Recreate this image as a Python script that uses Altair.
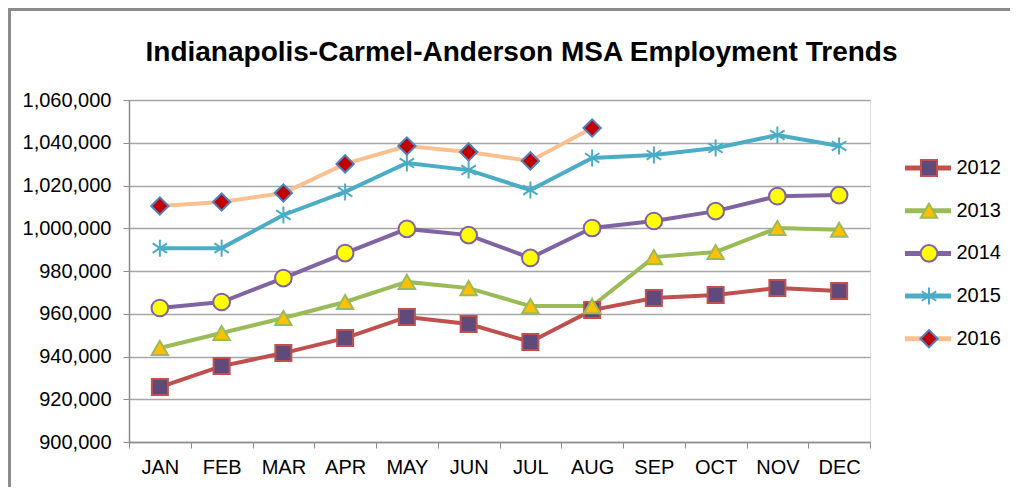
import altair as alt
import pandas as pd

months = ["JAN", "FEB", "MAR", "APR", "MAY", "JUN", "JUL", "AUG", "SEP", "OCT", "NOV", "DEC"]
years = ["2012", "2013", "2014", "2015", "2016"]

v2012 = [925700, 935500, 941600, 948600, 958500, 955200, 946800, 961700, 967400, 968800, 972000, 970600]
v2013 = [944000, 951000, 958000, 965500, 974900, 972000, 963600, 963600, 986500, 988900, 1000100, 999300]
v2014 = [962700, 965500, 976700, 988400, 999700, 996800, 986100, 1000100, 1003400, 1008000, 1015000, 1015500]
v2015 = [990700, 990700, 1006200, 1017000, 1030500, 1027200, 1017900, 1032900, 1034300, 1037500, 1043600, 1038500]
v2016 = [1010400, 1012300, 1016500, 1030100, 1038500, 1035700, 1031500, 1046900]

y_ticks = [900000, 920000, 940000, 960000, 980000, 1000000, 1020000, 1040000, 1060000]

line_colors = ["#C0504D", "#9BBB59", "#8064A2", "#4BACC6", "#FAC090"]
marker_fill = ["#604A7B", "#FFC000", "#FFFF00", "transparent", "#C00000"]
marker_stroke = ["#C0504D", "#9BBB59", "#8064A2", "#4BACC6", "#4F81BD"]
asterisk = "M0,-1L0,1M-0.85,-0.55L0.85,0.55M-0.85,0.55L0.85,-0.55"
marker_shapes = ["square", "triangle-up", "circle", asterisk, "diamond"]
marker_sizes = [256, 300, 289, 324, 225]

rows = []
for yr, vals in zip(years, [v2012, v2013, v2014, v2015, v2016]):
    for m, v in zip(months, vals):
        rows.append({"month": m, "year": yr, "value": v})
df = pd.DataFrame(rows)

series_keys = ["s" + y for y in years]

FONT = "Liberation Sans"

x_enc = alt.X("month:N", sort=months, bandPosition=0.5,
              scale=alt.Scale(type="band", domain=months, paddingInner=0, paddingOuter=0),
              axis=alt.Axis(title=None, labelAngle=0, tickBand="extent", grid=False,
                            labelFont=FONT, labelFontSize=20, labelColor="black", labelPadding=9,
                            tickSize=6, tickColor="#8C8C8C", domainColor="#8C8C8C", domainWidth=1.5))
y_enc = alt.Y("value:Q",
              scale=alt.Scale(domain=[900000, 1060000], nice=False, zero=False),
              axis=alt.Axis(title=None, values=y_ticks, format=",d",
                            labelFont=FONT, labelFontSize=20, labelColor="black", labelPadding=12,
                            tickSize=6, tickColor="#8C8C8C", domainColor="#8C8C8C", domainWidth=1.5,
                            gridColor="#A6A6A6", gridWidth=1.5))

line_legend = alt.Legend(orient="none", legendX=773.5, legendY=56, title=None,
                         symbolType="stroke", symbolSize=2116, symbolStrokeWidth=5,
                         clipHeight=24, rowPadding=18.7, padding=0,
                         labelFont=FONT, labelFontSize=20, labelColor="black", labelOffset=3)

point_legend = alt.Legend(orient="none", legendX=790, legendY=56, title=None,
                          clipHeight=24, rowPadding=18.7, padding=0,
                          symbolStrokeWidth=2, symbolOpacity=1, labelExpr="''",
                          labelFont=FONT, labelFontSize=20)

lines = alt.Chart(df).mark_line(strokeWidth=4).encode(
    x=x_enc,
    y=y_enc,
    color=alt.Color("year:N", scale=alt.Scale(domain=years, range=line_colors), legend=line_legend),
)

points = alt.Chart(df).transform_calculate(series="'s' + datum.year").mark_point(
    filled=True, opacity=1, strokeWidth=2
).encode(
    x=x_enc,
    y=y_enc,
    fill=alt.Fill("series:N", scale=alt.Scale(domain=series_keys, range=marker_fill), legend=point_legend),
    stroke=alt.Stroke("series:N", scale=alt.Scale(domain=series_keys, range=marker_stroke), legend=point_legend),
    shape=alt.Shape("series:N", scale=alt.Scale(domain=series_keys, range=marker_shapes), legend=point_legend),
    size=alt.Size("series:N", scale=alt.Scale(domain=series_keys, range=marker_sizes), legend=point_legend),
)

# outer chart frame (top and left edges visible in the reference)
frame_top = alt.Chart().mark_rule(color="#8C8C8C", strokeWidth=2.5).encode(
    x=alt.value(-121), x2=alt.value(885), y=alt.value(-91))
frame_left = alt.Chart().mark_rule(color="#8C8C8C", strokeWidth=2.5).encode(
    x=alt.value(-120), y=alt.value(-92), y2=alt.value(390))

chart = alt.layer(frame_top, frame_left, lines, points, data=df).properties(
    width=741,
    height=342,
    autosize=alt.AutoSizeParams(type="none"),
    padding={"left": 121, "top": 92, "right": 140, "bottom": 45},
    title=alt.Title("Indianapolis-Carmel-Anderson MSA Employment Trends",
                    font=FONT, fontSize=28, fontWeight="bold",
                    color="black", anchor="middle", dx=22, dy=82, offset=0, baseline="alphabetic"),
).configure_view(stroke=None).configure(background="white")

chart.save("out.html", embed_options={"renderer": "svg", "actions": False})
